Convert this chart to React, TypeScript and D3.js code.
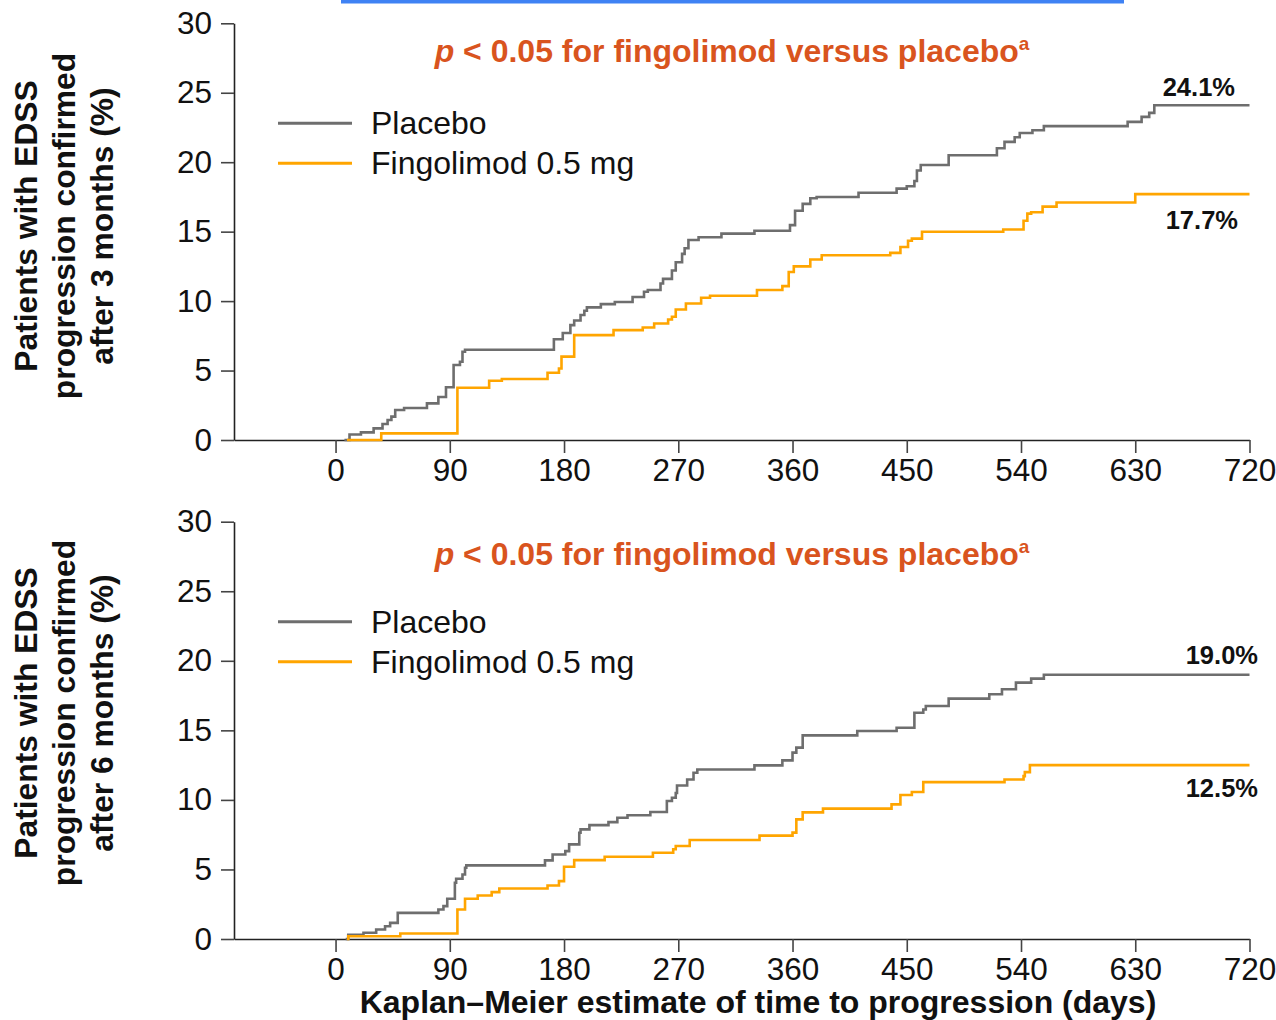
import React, { useEffect, useRef } from "react";
import * as d3 from "d3";

// Kaplan-Meier steps: [day, % progressed]
const placebo3m: [number, number][] = [
  [7, 0], [11, 0.4], [20, 0.55], [30, 0.84], [37, 1.15], [41, 1.44], [44, 1.68], [47, 2.16],
  [54, 2.3], [72, 2.64], [81, 3.1], [87, 3.8], [93, 5.4], [98, 5.63], [100, 6.35], [102, 6.5],
  [172, 7.25], [179, 7.7], [185, 8.27], [188, 8.6], [193, 9.0], [196, 9.3], [198, 9.55],
  [209, 9.78], [220, 9.93], [234, 10.3], [243, 10.67], [246, 10.8], [256, 11.27], [258, 11.6],
  [265, 12.2], [268, 12.8], [273, 13.4], [275, 13.8], [278, 14.4], [286, 14.6], [304, 14.86],
  [330, 15.06], [358, 15.47], [362, 16.5], [368, 17.0], [374, 17.4], [379, 17.5], [412, 17.8],
  [442, 18.1], [450, 18.27], [456, 18.65], [458, 19.4], [461, 19.8], [483, 20.5], [521, 21.0],
  [527, 21.46], [535, 21.8], [539, 22.1], [549, 22.3], [558, 22.6], [624, 22.9], [635, 23.26],
  [641, 23.55], [645, 24.1], [720, 24.1],
];

const fingolimod3m: [number, number][] = [
  [9, 0], [36, 0.48], [96, 3.76], [121, 4.27], [131, 4.39], [167, 4.84], [176, 5.15], [178, 6.0],
  [188, 7.55], [219, 7.91], [242, 8.1], [251, 8.39], [262, 8.68], [265, 8.87], [268, 9.4],
  [276, 9.83], [288, 10.24], [295, 10.38], [332, 10.8], [352, 11.08], [357, 12.1], [361, 12.5],
  [374, 13.0], [383, 13.3], [437, 13.47], [445, 13.9], [451, 14.34], [454, 14.5], [462, 14.99],
  [526, 15.16], [542, 15.78], [545, 16.3], [548, 16.4], [557, 16.8], [568, 17.1], [630, 17.7],
  [720, 17.7],
];

const placebo6m: [number, number][] = [
  [8, 0], [10, 0.3], [22, 0.45], [32, 0.68], [39, 0.92], [43, 1.16], [49, 1.88], [81, 2.12],
  [85, 2.36], [88, 2.89], [94, 4.04], [95, 4.33], [100, 4.64], [102, 5.12], [103, 5.29],
  [165, 5.65], [171, 6.08], [181, 6.32], [184, 6.8], [192, 7.64], [193, 7.88], [200, 8.19],
  [215, 8.4], [222, 8.72], [230, 8.9], [248, 9.13], [261, 9.92], [265, 10.15], [268, 10.5],
  [269, 11.04], [277, 11.47], [282, 11.95], [285, 12.19], [330, 12.48], [352, 12.84],
  [360, 13.4], [363, 13.76], [368, 14.64], [411, 14.95], [442, 15.19], [456, 16.27], [463, 16.5],
  [465, 16.75], [483, 17.28], [515, 17.59], [525, 17.95], [536, 18.43], [548, 18.72], [558, 19.0],
  [720, 19.0],
];

const fingolimod6m: [number, number][] = [
  [9, 0], [10, 0.2], [51, 0.4], [96, 2.12], [102, 2.89], [112, 3.13], [123, 3.37], [129, 3.63],
  [167, 3.85], [176, 4.16], [180, 5.19], [188, 5.67], [212, 5.91], [250, 6.2], [266, 6.45],
  [268, 6.69], [279, 7.12], [334, 7.43], [360, 7.65], [363, 8.6], [368, 9.1], [384, 9.37],
  [438, 9.68], [445, 10.35], [454, 10.57], [463, 11.28], [527, 11.47], [542, 11.71], [543, 12.0],
  [547, 12.5], [720, 12.5],
];

const seriesNames = ["Placebo", "Fingolimod 0.5 mg"];
const seriesColors = ["#6e6e6e", "#ffa500"];
const xTicks = [0, 90, 180, 270, 360, 450, 540, 630, 720];
const yTicks = [0, 5, 10, 15, 20, 25, 30];
const endLabels3m = ["24.1%", "17.7%"];
const endLabels6m = ["19.0%", "12.5%"];

const FONT = "'Liberation Sans', Arial, Helvetica, sans-serif";

const panels = [
  {
    top: 23.3, bottom: 440, months: 3, titleY: 226, headY: 62,
    series: [placebo3m, fingolimod3m], labels: endLabels3m,
    labelPos: [{ x: 1235, y: 96 }, { x: 1238, y: 229 }],
  },
  {
    top: 521.7, bottom: 939, months: 6, titleY: 713, headY: 565,
    series: [placebo6m, fingolimod6m], labels: endLabels6m,
    labelPos: [{ x: 1258, y: 664 }, { x: 1258, y: 797 }],
  },
];

export default function App() {
  const ref = useRef<SVGSVGElement>(null);

  useEffect(() => {
    const svg = d3.select(ref.current);
    svg.selectAll("*").remove();

    // blue rule at the top edge of the slide
    svg.append("rect").attr("x", 341).attr("y", 0).attr("width", 783).attr("height", 3.5)
      .attr("fill", "#3f82f4");

    const x = d3.scaleLinear().domain([-80, 720]).range([234, 1249.5]);

    panels.forEach((p) => {
      const y = d3.scaleLinear().domain([0, 30]).range([p.bottom, p.top]);
      const g = svg.append("g");

      // axes
      const yAxis = g.append("g").attr("transform", `translate(${x(-80)},0)`)
        .call(d3.axisLeft(y).tickValues(yTicks).tickSize(13).tickSizeOuter(0).tickPadding(9));
      const xAxis = g.append("g").attr("transform", `translate(0,${p.bottom})`)
        .call(d3.axisBottom(x).tickValues(xTicks).tickSize(13).tickSizeOuter(0).tickPadding(6));
      [yAxis, xAxis].forEach((a) => {
        a.select(".domain").attr("stroke", "#222").attr("stroke-width", 1.6);
        a.selectAll(".tick line").attr("stroke", "#444").attr("stroke-width", 1.6);
        a.selectAll("text").attr("font-family", FONT).attr("font-size", 31.5).attr("fill", "#111");
      });

      // y axis title
      const yTitle = [
        "Patients with EDSS",
        "progression confirmed",
        `after ${p.months} months (%)`,
      ];
      yTitle.forEach((t, i) => {
        g.append("text")
          .attr("transform", `translate(${37 + i * 38},${p.titleY}) rotate(-90)`)
          .attr("text-anchor", "middle")
          .attr("font-family", FONT).attr("font-weight", "bold").attr("font-size", 31.8)
          .attr("fill", "#111").text(t);
      });

      // curves
      const line = d3.line<[number, number]>()
        .x((d) => x(d[0])).y((d) => y(d[1])).curve(d3.curveStepAfter);
      p.series.forEach((s, i) => {
        g.append("path").datum(s).attr("d", line).attr("fill", "none")
          .attr("stroke", seriesColors[i]).attr("stroke-width", 2.6);
      });

      // end-of-curve percentages
      p.labels.forEach((l, i) => {
        g.append("text").attr("x", p.labelPos[i].x).attr("y", p.labelPos[i].y)
          .attr("text-anchor", "end").attr("font-family", FONT).attr("font-weight", "bold")
          .attr("font-size", 25.5).attr("fill", "#111").text(l);
      });

      // p-value headline
      const title = g.append("text").attr("x", 732).attr("y", p.headY)
        .attr("text-anchor", "middle").attr("font-family", FONT).attr("font-weight", "bold")
        .attr("font-size", 32).attr("fill", "#d9541e");
      title.append("tspan").attr("font-style", "italic").text("p");
      title.append("tspan").text(" < 0.05 for fingolimod versus placebo");
      title.append("tspan").attr("font-size", 19).attr("dy", -12).text("a");

      // legend
      seriesNames.forEach((n, i) => {
        const ly = p.top + 100 + i * 40;
        g.append("line").attr("x1", 278).attr("x2", 352).attr("y1", ly).attr("y2", ly)
          .attr("stroke", seriesColors[i]).attr("stroke-width", 3);
        g.append("text").attr("x", 371).attr("y", ly + 11).attr("font-family", FONT)
          .attr("font-size", 32).attr("fill", "#111").text(n);
      });
    });

    svg.append("text").attr("x", 758).attr("y", 1013).attr("text-anchor", "middle")
      .attr("font-family", FONT).attr("font-weight", "bold").attr("font-size", 32)
      .attr("fill", "#111").text("Kaplan\u2013Meier estimate of time to progression (days)");
  }, []);

  return (
    <svg
      ref={ref}
      width={1276}
      height={1020}
      style={{ position: "absolute", left: 0, top: 0, background: "#fff" }}
    />
  );
}
